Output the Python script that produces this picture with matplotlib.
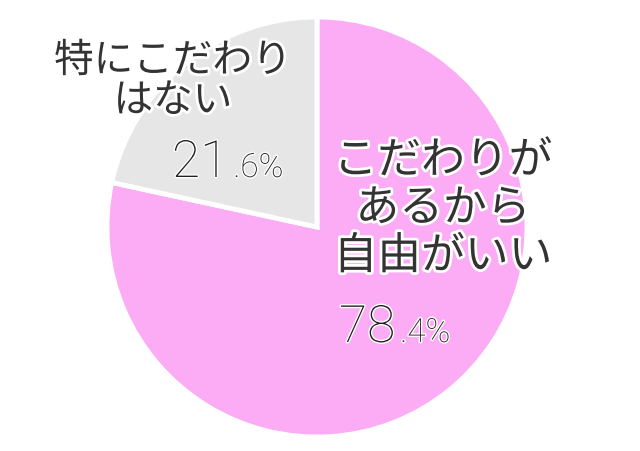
import matplotlib
matplotlib.use('Agg')
import matplotlib.pyplot as plt
import matplotlib.patheffects as pe

plt.rcParams['font.family'] = ['Noto Sans CJK JP', 'DejaVu Sans']

# Data
labels = ['こだわりが\nあるから\n自由がいい', '特にこだわり\nはない']
values = [78.4, 21.6]
colors = ['#fbacf4', '#e6e6e6']

text_color = '#333333'
outline = [pe.withStroke(linewidth=4, foreground='white')]

fig = plt.figure(figsize=(6.4, 4.51), dpi=100)
ax = fig.add_axes([0, 0, 1, 1])
ax.pie(values, colors=colors, startangle=90, counterclock=False,
       wedgeprops=dict(edgecolor='white', linewidth=3.5))

# pie centre at (317, 227) px, radius 210 px
r = 210
ax.set_xlim(-317 / r, (640 - 317) / r)
ax.set_ylim(-(451 - 227) / r, 227 / r)
ax.set_aspect('auto')
ax.axis('off')


def px(x, y):
    return x / 640, 1 - y / 451


# Category labels
fig.text(*px(443, 208), labels[0], ha='center', va='center', fontsize=31.5,
         color=text_color, linespacing=1.05, path_effects=outline)
fig.text(*px(173, 81), labels[1], ha='center', va='center', fontsize=28.5,
         color=text_color, linespacing=1.0, path_effects=outline)

# Percentages: integer part large, decimal part small
num_font = dict(family=['Roboto', 'DejaVu Sans'], fontweight='light', color='#1e1e1e',
                path_effects=[pe.withStroke(linewidth=2, foreground='white')],
                va='baseline', ha='left')


def pct_label(x, y, v):
    whole, dec = f'{v:.1f}'.split('.')
    t = fig.text(*px(x, y), whole, fontsize=37, **num_font)
    fig.canvas.draw()
    bb = t.get_window_extent()
    fig.text((bb.x1 + 5) / 640, 1 - y / 451, f'.{dec}%', fontsize=24, **num_font)


pct_label(339, 342, values[0])
pct_label(172, 177, values[1])

fig.savefig('out.png', dpi=100)
